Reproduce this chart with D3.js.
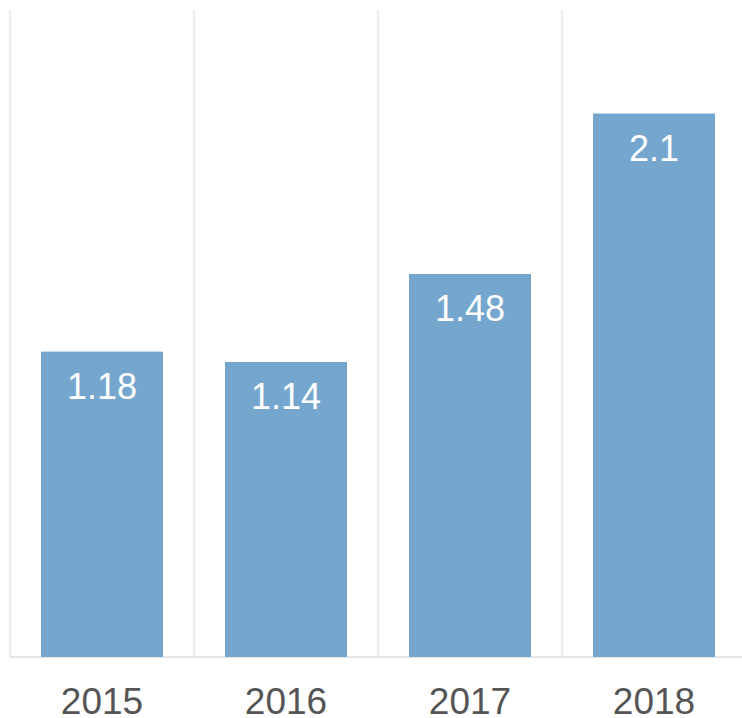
<!DOCTYPE html>
<html>
<head>
<meta charset="utf-8">
<script src="https://cdn.jsdelivr.net/npm/d3@7"></script>
<style>
  body { margin: 0; background: #fff; }
  svg { display: block; }
</style>
</head>
<body>
<div id="chart"></div>
<script>
// chart data
var years = ['2015', '2016', '2017', '2018'];
var values = [1.18, 1.14, 1.48, 2.1];
var yMax = 2.5;

var width = 742, height = 718;
var plot = {left: 10, right: 746, top: 10, bottom: 657};

var svg = d3.select('#chart').append('svg')
    .attr('width', width)
    .attr('height', height);

var x = d3.scaleBand()
    .domain(years)
    .range([plot.left, plot.right])
    .paddingInner(0.337)
    .paddingOuter(0.1685);

var y = d3.scaleLinear()
    .domain([0, yMax])
    .range([plot.bottom, plot.top]);

// vertical grid lines between categories
var step = x.step();
var gridX = d3.range(years.length + 1).map(function(i){ return plot.left + i * step; });
svg.append('g').selectAll('line')
    .data(gridX)
    .enter().append('line')
    .attr('x1', d => d).attr('x2', d => d)
    .attr('y1', plot.top).attr('y2', plot.bottom)
    .attr('stroke', '#ececec')
    .attr('stroke-width', 2);

// baseline
svg.append('line')
    .attr('x1', plot.left).attr('x2', plot.right)
    .attr('y1', plot.bottom).attr('y2', plot.bottom)
    .attr('stroke', '#e6e6e6')
    .attr('stroke-width', 2);

var data = years.map(function(d, i){ return {year: d, value: values[i]}; });

// bars
svg.append('g').selectAll('rect')
    .data(data)
    .enter().append('rect')
    .attr('x', d => x(d.year))
    .attr('y', d => y(d.value))
    .attr('width', x.bandwidth())
    .attr('height', d => y(0) - y(d.value))
    .attr('fill', '#75a7ce');

// value labels inside bars
svg.append('g').selectAll('text')
    .data(data)
    .enter().append('text')
    .attr('x', d => x(d.year) + x.bandwidth() / 2)
    .attr('y', d => y(d.value) + 47)
    .attr('text-anchor', 'middle')
    .attr('font-family', 'Liberation Sans, Arial, sans-serif')
    .attr('font-size', '36px')
    .attr('fill', '#ffffff')
    .text(d => d.value);

// x axis labels
svg.append('g').selectAll('text')
    .data(years)
    .enter().append('text')
    .attr('x', d => x(d) + x.bandwidth() / 2)
    .attr('y', 714)
    .attr('text-anchor', 'middle')
    .attr('font-family', 'Liberation Sans, Arial, sans-serif')
    .attr('font-size', '37px')
    .attr('fill', '#555555')
    .text(d => d);
</script>
</body>
</html>
